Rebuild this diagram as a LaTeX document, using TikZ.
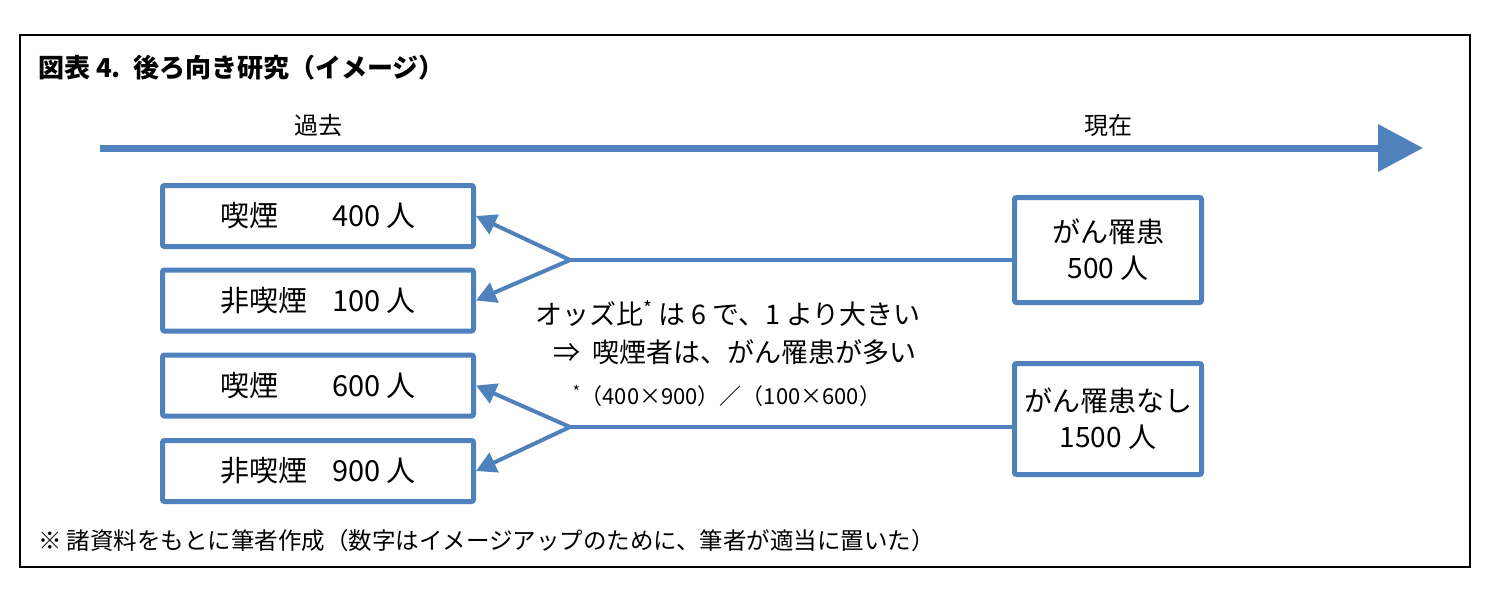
\documentclass[tikz,border=0pt]{standalone}
\usepackage{fontspec}
\setmainfont{Noto Sans CJK JP}
\usetikzlibrary{arrows.meta}
\definecolor{timeblue}{HTML}{4F81BD}

\begin{document}
\begin{tikzpicture}[x=1pt, y=-1pt,
    every node/.style={inner sep=0pt, font=\fontsize{28}{34}\selectfont},
    grpbox/.style={draw=timeblue, line width=5pt, rounded corners=2pt, fill=white, minimum width=311pt, minimum height=61pt, font=\fontsize{29}{34}\selectfont},
    casebox/.style={draw=timeblue, line width=5pt, rounded corners=2pt, fill=white, minimum width=187pt, align=center, font=\fontsize{28}{36}\selectfont},
    link/.style={draw=timeblue, line width=4pt},
    linkarrow/.style={link, -{Triangle[length=20pt, width=21pt]}},
    timeaxis/.style={draw=timeblue, line width=7pt, -{Triangle[length=45pt, width=46pt]}}]
    \useasboundingbox (0,0) rectangle (1492,600);

    % Rahmen und Titel
    \draw[line width=2.5pt] (20,35) rectangle (1470,567);
    \node[anchor=west, font=\fontsize{26}{30}\selectfont\bfseries] (title) at (38,68) {図表 4.\ \ 後ろ向き研究（イメージ）};

    % Zeitachse
    \coordinate (past) at (100,148);
    \coordinate (now) at (1423,148);
    \draw[timeaxis] (past) -- (now);
    \node[font=\fontsize{24}{28}\selectfont] (pastlbl) at (318,125) {過去};
    \node[font=\fontsize{24}{28}\selectfont] (nowlbl) at (1108,125) {現在};

    % Gruppen links
    \node[grpbox] (smk1) at (318,216) {\makebox[112pt][l]{喫煙}400 人};
    \node[grpbox] (non1) at (318,300.5) {\makebox[112pt][l]{非喫煙}100 人};
    \node[grpbox] (smk2) at (318,385.5) {\makebox[112pt][l]{喫煙}600 人};
    \node[grpbox] (non2) at (318,471) {\makebox[112pt][l]{非喫煙}900 人};

    % Faelle rechts
    \node[casebox, minimum height=105pt] (case) at (1108,250) {がん罹患\\500 人};
    \node[casebox, minimum height=111pt] (ctrl) at (1108,419) {がん罹患なし\\1500 人};

    % Verbindungen
    \coordinate (fork1) at (570,260);
    \coordinate (fork2) at (570,427);
    \draw[link] (fork1 -| case.west) -- (fork1);
    \draw[linkarrow] (fork1) -- (smk1.east);
    \draw[linkarrow] (fork1) -- (non1.east);
    \draw[link] (fork2 -| ctrl.west) -- (fork2);
    \draw[linkarrow] (fork2) -- (smk2.east);
    \draw[linkarrow] (fork2) -- (non2.east);

    % Odds ratio
    \node[font=\fontsize{27}{32}\selectfont] (odds) at (728,314) {オッズ比\textsuperscript{*} は 6 で、1 より大きい};
    \node[font=\fontsize{27}{32}\selectfont] (concl) at (735,352) {⇒\ \ 喫煙者は、がん罹患が多い};
    \node[font=\fontsize{22}{26}\selectfont] (calc) at (727,396) {\textsuperscript{*}（400×900）／（100×600）};

    % Anmerkung
    \node[anchor=west, font=\fontsize{23.5}{28}\selectfont] (note) at (38,541) {※ 諸資料をもとに筆者作成（数字はイメージアップのために、筆者が適当に置いた）};
\end{tikzpicture}
\end{document}
